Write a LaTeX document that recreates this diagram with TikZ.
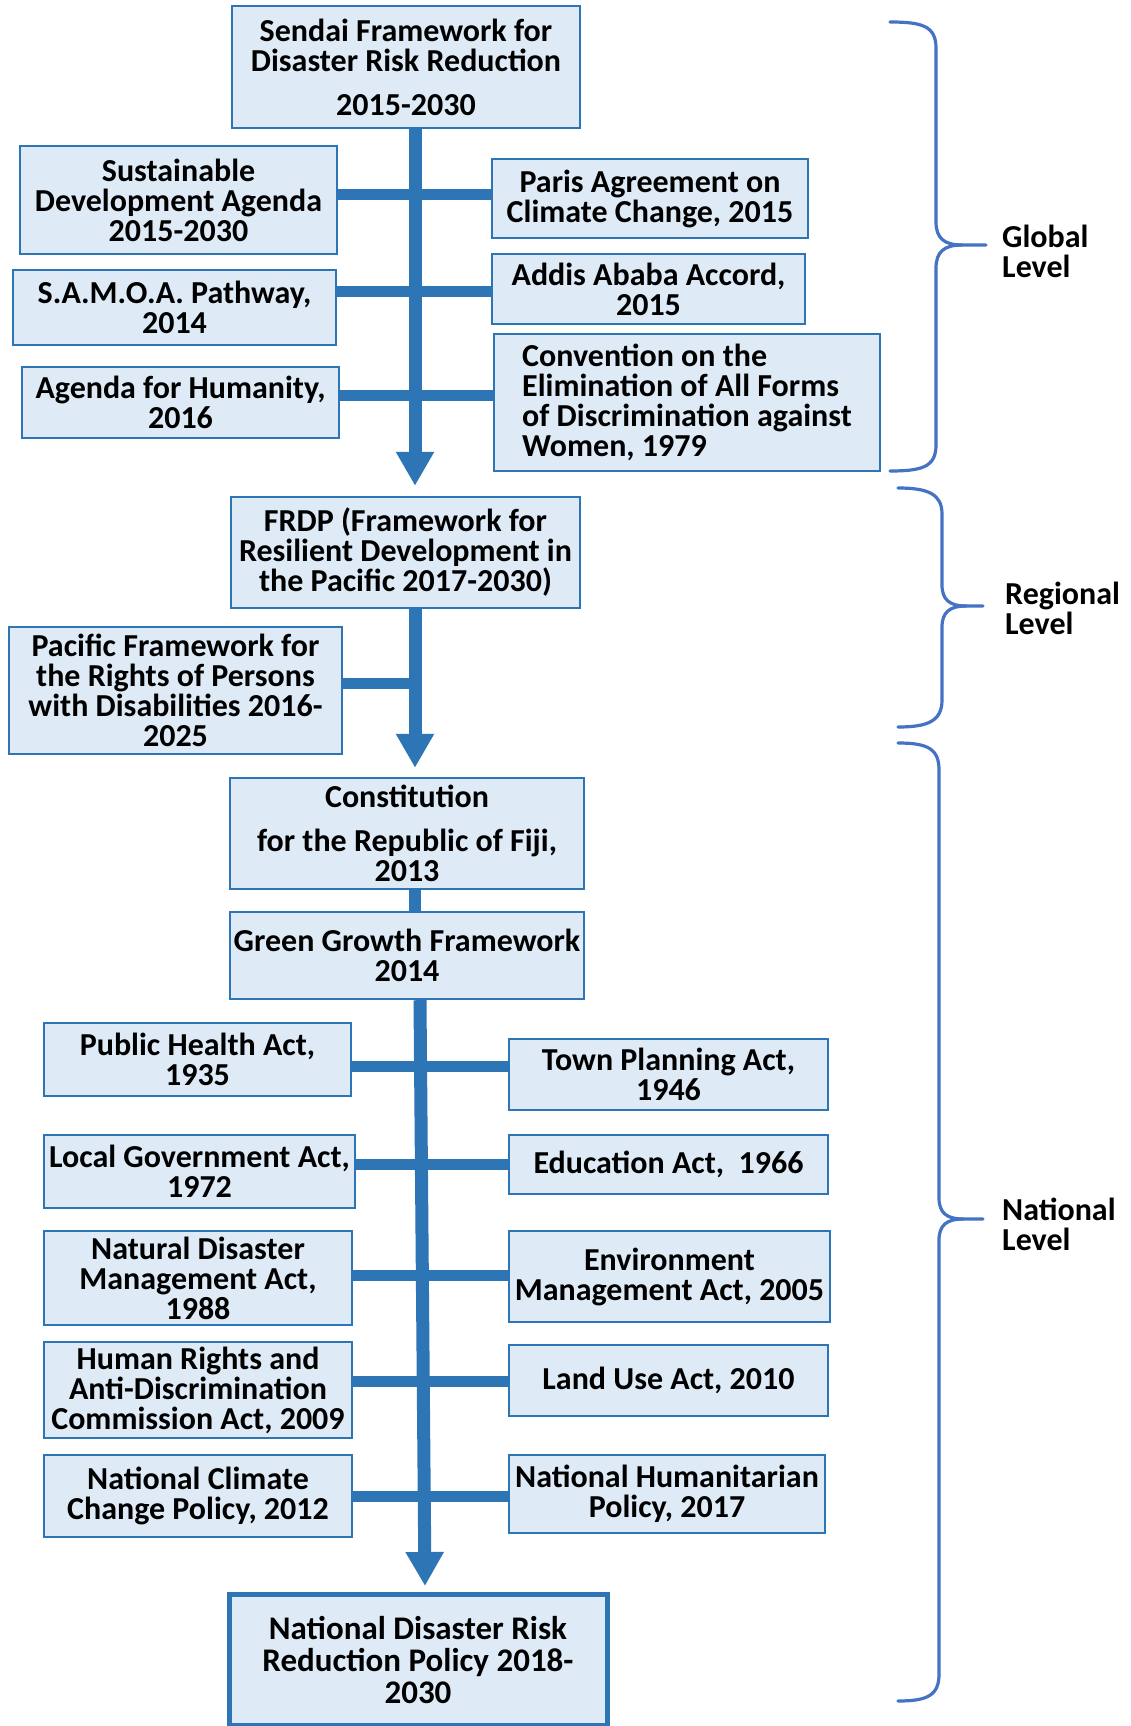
\documentclass[tikz,border=0pt]{standalone}
\usepackage{fontspec}
\setmainfont{Carlito}
\usetikzlibrary{arrows.meta}
\definecolor{boxfill}{HTML}{DEEBF7}
\definecolor{boxline}{HTML}{2E75B6}
\definecolor{flow}{HTML}{2E75B6}
\definecolor{bracecol}{HTML}{4472C4}
\begin{document}
\begin{tikzpicture}[x=1pt,y=-1pt,
  box/.style={draw=boxline, fill=boxfill, line width=2.4pt, align=center, inner sep=0pt,
    font=\bfseries\fontsize{32}{30}\selectfont},
  spine/.style={draw=flow, line width=13pt, -{Triangle[width=36pt,length=34pt]}},
  link/.style={draw=flow, line width=12pt},
  branch/.style={draw=flow, line width=11pt},
  brace/.style={draw=bracecol, line width=3.2pt, line cap=round, line join=round},
  level/.style={align=left, anchor=west, inner sep=0pt, font=\bfseries\fontsize{32}{30}\selectfont}]
\useasboundingbox (0,0) rectangle (1131,1726);

% ---------- global level ----------
\node[box, minimum width=348, minimum height=122] (sendai) at (406,67)
  {Sendai Framework for\\Disaster Risk Reduction\\[14pt]2015-2030};
\node[box, minimum width=317, minimum height=108] (sda) at (178.5,200)
  {Sustainable\\Development Agenda\\2015-2030};
\node[box, minimum width=316, minimum height=79] (paris) at (650,198.5)
  {Paris Agreement on\\Climate Change, 2015};
\node[box, minimum width=323, minimum height=75] (samoa) at (174.5,307.5)
  {S.A.M.O.A. Pathway,\\2014};
\node[box, minimum width=313, minimum height=70] (addis) at (648.5,289)
  {Addis Ababa Accord,\\2015};
\node[box, minimum width=317, minimum height=71] (humanity) at (180.5,402.5)
  {Agenda for Humanity,\\2016};
\node[box, align=left, minimum width=386, minimum height=137] (cedaw) at (687,402.5)
  {Convention on the\\Elimination of All Forms\\of Discrimination against\\Women, 1979};

% ---------- regional level ----------
\node[box, minimum width=349, minimum height=111] (frdp) at (405.5,552.5)
  {FRDP (Framework for\\Resilient Development in\\the Pacific 2017-2030)};
\node[box, minimum width=333, minimum height=127] (pacific) at (175.5,690.5)
  {Pacific Framework for\\the Rights of Persons\\with Disabilities 2016-\\2025};

% ---------- national level ----------
\node[box, minimum width=354, minimum height=111] (constitution) at (407,833.5)
  {Constitution\\[14pt]for the Republic of Fiji,\\2013};
\node[box, minimum width=354, minimum height=87] (green) at (407,955.5)
  {Green Growth Framework\\2014};
\node[box, minimum width=307, minimum height=73] (health) at (197.5,1059.5)
  {Public Health Act,\\1935};
\node[box, minimum width=319, minimum height=71] (town) at (668.5,1074.5)
  {Town Planning Act,\\1946};
\node[box, minimum width=311, minimum height=73] (localgov) at (199.5,1171.5)
  {Local Government Act,\\1972};
\node[box, minimum width=319, minimum height=59] (education) at (668.5,1164.5)
  {Education Act,\ \ 1966};
\node[box, minimum width=308, minimum height=94] (natural) at (198,1278)
  {Natural Disaster\\Management Act,\\1988};
\node[box, minimum width=321, minimum height=91] (environment) at (669.5,1276.5)
  {Environment\\Management Act, 2005};
\node[box, minimum width=308, minimum height=96] (rights) at (198,1390)
  {Human Rights and\\Anti-Discrimination\\Commission Act, 2009};
\node[box, minimum width=319, minimum height=71] (landuse) at (668.5,1380.5)
  {Land Use Act, 2010};
\node[box, minimum width=308, minimum height=82] (climate) at (198,1496)
  {National Climate\\Change Policy, 2012};
\node[box, minimum width=316, minimum height=78] (humanitarian) at (667,1494)
  {National Humanitarian\\Policy, 2017};
\node[box, line width=5pt, font=\bfseries\fontsize{33}{32}\selectfont,
  minimum width=378, minimum height=131] (ndrr) at (418,1660)
  {National Disaster Risk\\Reduction Policy 2018-\\2030};

% ---------- rows of the side branches ----------
\coordinate (r1) at (0,194);
\coordinate (r2) at (0,291);
\coordinate (r3) at (0,395);
\coordinate (r4) at (0,683);
\coordinate (r5) at (0,1066);
\coordinate (r6) at (0,1164);
\coordinate (r7) at (0,1275);
\coordinate (r8) at (0,1381);
\coordinate (r9) at (0,1496);

% spine points
\coordinate (s1) at (415,0);
\coordinate (s3top) at (420,0);
\coordinate (s3tip) at (425,0);

\draw[branch] (sda.east |- r1) -- (paris.west |- r1);
\draw[branch] (samoa.east |- r2) -- (addis.west |- r2);
\draw[branch] (humanity.east |- r3) -- (cedaw.west |- r3);
\draw[branch] (pacific.east |- r4) -- (s1 |- r4);
\draw[branch] (health.east |- r5) -- (town.west |- r5);
\draw[branch] (localgov.east |- r6) -- (education.west |- r6);
\draw[branch] (natural.east |- r7) -- (environment.west |- r7);
\draw[branch] (rights.east |- r8) -- (landuse.west |- r8);
\draw[branch] (climate.east |- r9) -- (humanitarian.west |- r9);

% main downward arrows
\draw[spine] (s1 |- sendai.south) -- ([yshift=10]s1 |- frdp.north);
\draw[spine] (s1 |- frdp.south) -- ([yshift=9]s1 |- constitution.north);
\draw[link] (s1 |- constitution.south) -- (s1 |- green.north);
\draw[spine] (s3top |- green.south) -- ([yshift=6]s3tip |- ndrr.north);

% ---------- level braces ----------
\draw[brace] (890,22) .. controls (922,22) and (936,26) .. (936,48) -- (936,222)
  .. controls (936,238) and (944,245) .. (962,245) -- (986,245);
\draw[brace] (962,245) .. controls (944,245) and (936,252) .. (936,268) -- (936,445)
  .. controls (936,467) and (922,471) .. (890,471);
\node[level] (glob) at (1002,251) {Global\\Level};

\draw[brace] (898,488) .. controls (928,488) and (942,494) .. (942,514) -- (942,585)
  .. controls (942,600) and (950,606) .. (966,606) -- (983,606);
\draw[brace] (966,606) .. controls (950,606) and (942,612) .. (942,627) -- (942,700)
  .. controls (942,721) and (928,727) .. (898,727);
\node[level] (reg) at (1005,608) {Regional\\Level};

\draw[brace] (898,743) .. controls (928,743) and (939,749) .. (939,770) -- (939,1198)
  .. controls (939,1213) and (947,1219) .. (963,1219) -- (983,1219);
\draw[brace] (963,1219) .. controls (947,1219) and (939,1225) .. (939,1240) -- (939,1674)
  .. controls (939,1695) and (928,1701) .. (898,1701);
\node[level] (nat) at (1002,1224) {National\\Level};
\end{tikzpicture}
\end{document}
